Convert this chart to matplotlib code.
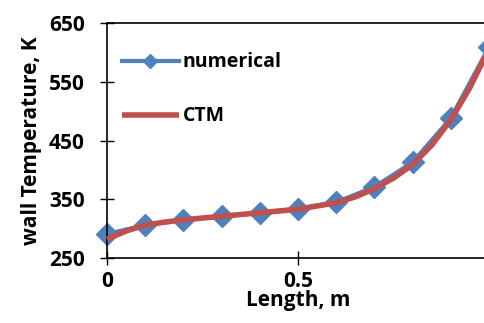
import matplotlib
matplotlib.use('Agg')
import matplotlib.pyplot as plt

# values
length_num = [0, 0.1, 0.2, 0.3, 0.4, 0.5, 0.6, 0.7, 0.8, 0.9, 1.0]
temp_num = [291, 306, 315, 321, 327, 334, 345, 371, 413, 488, 609]

length_ctm = [0, 0.05, 0.1, 0.15, 0.2, 0.3, 0.4, 0.5, 0.6, 0.65, 0.7, 0.75, 0.8, 0.85, 0.9, 0.95, 1.0]
temp_ctm = [282, 296, 306, 311, 315, 321, 327, 333, 344, 354, 368, 386, 409, 442, 485, 540, 606]

y_ticks = [250, 350, 450, 550, 650]
x_ticks = [0, 0.5, 1]
x_tick_labels = ['0', '0.5', '1']

plt.rcParams['font.family'] = ['Open Sans', 'DejaVu Sans']
plt.rcParams['font.weight'] = 'bold'

fig = plt.figure(figsize=(4.85, 3.23), dpi=100)
ax = fig.add_axes([0.2206, 0.2012, 0.7876, 0.7276])

ax.plot(length_num, temp_num, color='#4F81BD', lw=3, marker='D', ms=11,
        label='numerical', clip_on=False, zorder=2)
ax.plot(length_ctm, temp_ctm, color='#C0504D', lw=4, label='CTM',
        clip_on=False, zorder=3, solid_capstyle='butt', solid_joinstyle='round')

ax.set_xlim(0, 1)
ax.set_ylim(250, 650)
ax.set_yticks(y_ticks)
ax.set_xticks(x_ticks)
ax.set_xticklabels(x_tick_labels)
ax.tick_params(direction='inout', length=10, width=1, labelsize=15)
ax.tick_params(axis='y', pad=11)
ax.tick_params(axis='x', pad=4)
for s in ax.spines.values():
    s.set_linewidth(1.2)

ax.set_xlabel('Length, m', fontsize=15, fontweight='bold', labelpad=-1)
ax.set_ylabel('wall Temperature, K', fontsize=15, fontweight='bold', labelpad=5)

leg = ax.legend(loc='upper left', bbox_to_anchor=(0.04, 0.875), frameon=False,
                handlelength=2.9, handletextpad=0.2, labelspacing=1.75,
                borderaxespad=0, borderpad=0, markerscale=0.65,
                prop={'weight': 'bold', 'size': 14})

fig.savefig('out.png', dpi=100)
